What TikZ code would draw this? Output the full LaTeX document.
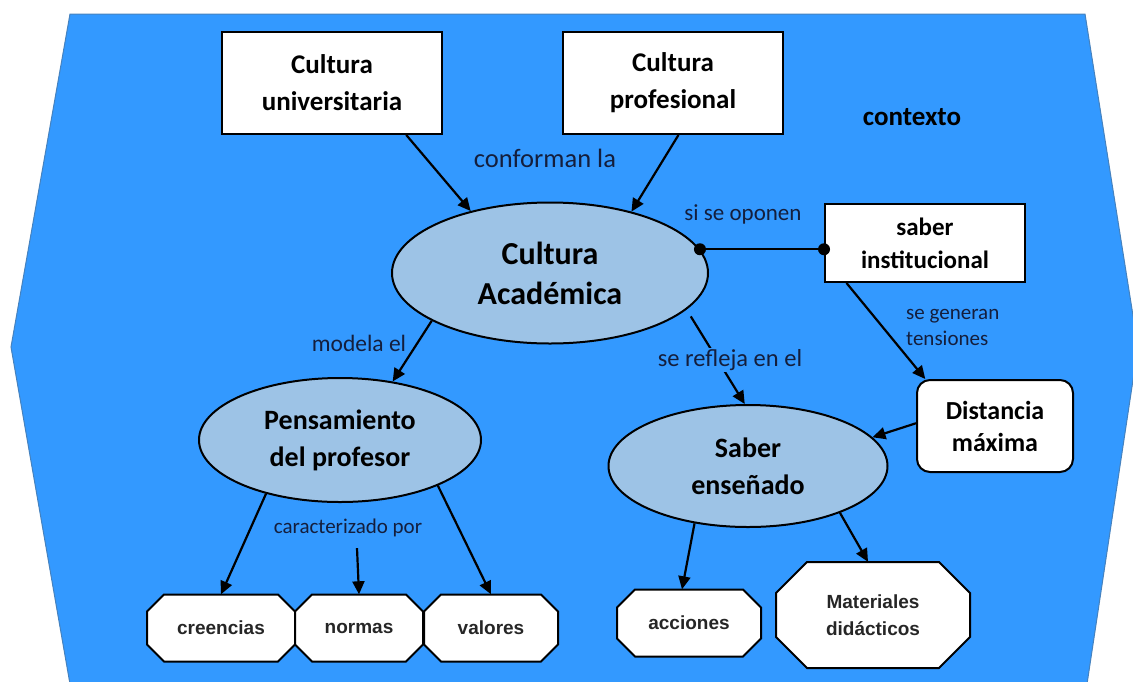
\documentclass[tikz,border=0pt]{standalone}
\usepackage{fontspec}
\setmainfont{Carlito}
\newfontfamily\arialfont{Liberation Sans}
\usetikzlibrary{shapes.geometric,arrows.meta}
\definecolor{ctxblue}{RGB}{51,153,255}
\definecolor{ctxedge}{RGB}{70,130,190}
\definecolor{ellfill}{RGB}{157,195,230}
\definecolor{lbltext}{RGB}{20,30,60}

% octagon outline: centre x, centre y, half width, half height, cut
\newcommand\octagon[5]{%
  \draw[octline] ({#1-#3+#5},{#2-#4}) -- ({#1+#3-#5},{#2-#4}) -- ({#1+#3},{#2-#4+#5})
    -- ({#1+#3},{#2+#4-#5}) -- ({#1+#3-#5},{#2+#4}) -- ({#1-#3+#5},{#2+#4})
    -- ({#1-#3},{#2+#4-#5}) -- ({#1-#3},{#2-#4+#5}) -- cycle;}

\begin{document}
\begin{tikzpicture}
[
	x=1pt, y=-1pt,
	box/.style={draw, line width=2pt, fill=white, align=center, inner sep=0pt, font=\bfseries\fontsize{27}{37}\selectfont},
	ell/.style={ellipse, draw, line width=2pt, fill=ellfill, align=center, inner sep=0pt, font=\bfseries\fontsize{28}{37}\selectfont},
	octline/.style={line width=2pt, fill=white, line join=miter},
	oct/.style={inner sep=0pt, align=center, text=black!85, font=\arialfont\bfseries\fontsize{19}{27}\selectfont},
	lbl/.style={text=lbltext, align=left, inner sep=1pt},
	arr/.style={line width=2.2pt, -{Triangle[length=13pt,width=12pt]}}
]

\def\dotMark{circle (6pt)}
\useasboundingbox (0,0) rectangle (1133,681);

% Draw context
\draw[fill=ctxblue, draw=ctxedge, line width=1pt] (70,14) -- (1085,14) -- (1138,347) -- (1087,684) -- (70,684) -- (11,347) -- cycle;

% Draw nodes
\node[box, minimum width=220pt, minimum height=102pt] (univ) at (332,83) {Cultura\\universitaria};
\node[box, minimum width=220pt, minimum height=102pt] (prof) at (673,83) {Cultura\\profesional};
\node[font=\bfseries\fontsize{27}{36}\selectfont] (ctx) at (912,117) {contexto};
\node[ell, minimum width=316pt, minimum height=141pt, font=\bfseries\fontsize{32}{40}\selectfont] (acad) at (550,273) {Cultura\\Académica};
\node[box, minimum width=200pt, minimum height=78pt, font=\bfseries\fontsize{25}{33}\selectfont] (sinst) at (925,243) {saber\\institucional};
\node[box, rounded corners=13pt, minimum width=156pt, minimum height=92pt, font=\bfseries\fontsize{26}{32}\selectfont] (dist) at (995,426) {Distancia\\máxima};
\node[ell, minimum width=282pt, minimum height=124pt] (pens) at (340,440) {Pensamiento\\del profesor};
\node[ell, minimum width=279pt, minimum height=122pt] (saber) at (748,466) {Saber\\enseñado};

% Draw leaves
\octagon{221}{628}{74}{33.5}{17}
\node[oct, minimum width=148pt, minimum height=67pt] (cre) at (221,628) {creencias};
\octagon{359}{628}{64}{33.5}{17}
\node[oct, minimum width=128pt, minimum height=67pt] (norm) at (359,628) {normas};
\octagon{491}{628}{67}{33.5}{17}
\node[oct, minimum width=134pt, minimum height=67pt] (val) at (491,628) {valores};
\octagon{689}{623}{72}{33.5}{18}
\node[oct, minimum width=144pt, minimum height=67pt] (acc) at (689,623) {acciones};
\octagon{873}{615}{97}{53}{31}
\node[oct, minimum width=194pt, minimum height=106pt] (mat) at (873,615) {Materiales\\didácticos};

% Draw links
\draw[arr] (univ.-35) -- (acad.142);
\draw[arr] (prof.-84) -- (acad.37.5);
\draw[arr] (acad.202) -- (pens.48.5);
\draw[arr, shorten <=8pt] (acad.-15.6) -- (saber.93);
\draw[arr] (sinst.207.5) -- (dist.146);
\draw[arr] (dist.178.5) -- (saber.13.4);
\draw[arr] (pens.216.6) -- (cre.north);
\draw[arr] (pens.-25.6) -- (val.north);
\draw[arr] (saber.227) -- ([xshift=-7pt]acc.north);
\draw[arr] (saber.-27.3) -- ([xshift=-5pt]mat.north);

% Opposition line
\draw[line width=2pt] (acad.9.6) -- (acad.9.6 -| sinst.west);
\fill (acad.9.6) \dotMark (acad.9.6 -| sinst.west) \dotMark;

% Draw link labels
\node[lbl, font=\fontsize{26.5}{32}\selectfont] (conf) at (545,158) {conforman la};
\node[lbl, font=\fontsize{23}{28}\selectfont] (opon) at (743,214) {si se oponen};
\node[lbl, font=\fontsize{21}{26}\selectfont, anchor=west] (tens) at (905,327) {se generan\\tensiones};
\node[lbl, font=\fontsize{23.5}{28}\selectfont] (mod) at (359,343) {modela el};
\node[lbl, fill=ctxblue, font=\fontsize{24.5}{30}\selectfont] (refl) at (730,360) {se refleja en el};
\node[lbl, font=\fontsize{21}{27}\selectfont] (carac) at (348,528) {caracterizado por};
\draw[arr] ([xshift=9pt,yshift=-10pt]carac.south) -- (norm.north);

\end{tikzpicture}
\end{document}
